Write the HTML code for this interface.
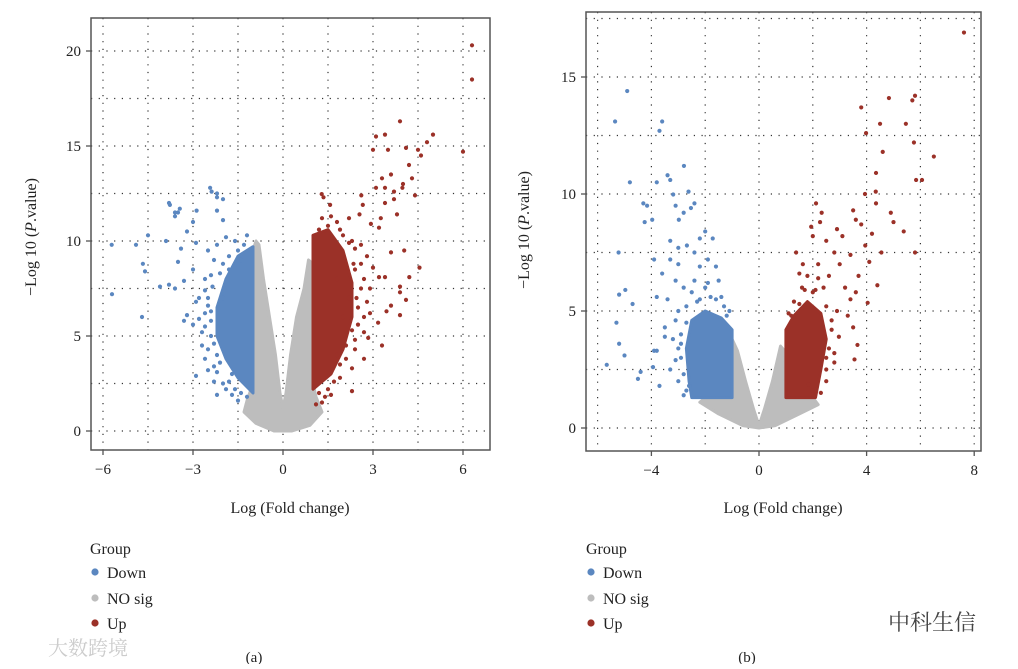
<!DOCTYPE html>
<html><head><meta charset="utf-8"><style>
body{margin:0;background:#fff;width:1018px;height:664px;overflow:hidden}
svg text{font-family:"Liberation Serif","Noto Serif CJK SC",serif;fill:#222}
</style></head><body>
<svg id="c" width="1018" height="664"></svg>
<script>
// ---------- Panel A data ----------
const aGrayEnv=[[-0.9,10],[-1.0,9.5],[-1.0,2.5],[-1.2,1.6],[-1.3,1.0],[-0.9,0.4],[-0.3,0],[0.3,0],[0.9,0.3],[1.3,1.0],[1.1,1.8],[1.0,2.5],[1.0,8.8],[0.85,9.0],[0.7,7.5],[0.45,6],[0.25,4],[0.1,2],[0,1.2],[-0.1,2],[-0.25,4],[-0.45,6],[-0.65,8],[-0.8,9.8]];
const aDownCore=[[-1,9.7],[-1.5,9.2],[-1.9,8.0],[-2.2,6.5],[-2.2,5],[-1.9,3.8],[-1.5,2.8],[-1,2]];
const aUpCore=[[1,10.3],[1.5,10.6],[2.0,9.5],[2.3,7.8],[2.3,6],[2.0,4.3],[1.6,3],[1,2.2]];
const aDown=[[-5.71,9.8],[-4.9,9.8],[-4.5,10.3],[-4.67,8.8],[-4.6,8.4],[-4.1,7.6],[-3.8,7.7],[-5.7,7.2],[-4.7,6.0],[-3.8,12.0],[-3.5,11.5],[-3.44,11.7],[-3.6,11.3],[-2.88,11.6],[-3.0,11.0],[-2.38,12.6],[-2.2,12.3],[-2.0,12.2],[-2.2,11.6],[-2.0,11.1],[-3.2,10.5],[-2.9,9.9],[-3.4,9.6],[-3.5,8.9],[-3.0,8.5],[-3.3,7.9],[-3.6,7.5],[-3.2,6.1],[-3.3,5.8],[-3.0,5.6],[-2.9,2.9],[-2.5,3.2],[-2.2,3.1],[-2.2,1.9],[-2.0,2.5],[-3.9,10.0],[-2.43,12.8],[-2.2,12.5],[-3.77,11.9],[-3.6,11.5],[-2.5,9.5],[-2.2,9.8],[-1.9,10.2],[-1.6,10.0],[-1.3,9.8],[-2.6,8],[-2.8,7],[-2.6,6.2],[-2.9,6.8],[-2.4,5],[-2.7,4.5],[-2.2,4],[-2.5,6.6],[-1.7,3],[-1.4,2.0],[-1.6,2.2],[-1.2,1.8],[-2.0,7],[-1.8,8.5],[-1.4,9.0],[-2.3,9.0],[-2.0,8.8],[-2.6,7.4],[-2.4,5.8],[-2.7,5.2],[-2.1,3.6],[-1.8,2.6],[-2.4,8.2],[-2.5,7.0],[-2.6,5.5],[-2.5,4.3],[-2.3,3.4],[-1.9,2.2],[-1.5,1.6],[-1.2,10.3],[-1.5,9.5],[-1.8,9.2],[-2.1,8.3],[-2.8,5.9],[-2.3,2.6],[-1.7,1.9],[-2.6,3.8],[-2.35,7.6],[-2.4,6.3],[-2.3,4.6]];
const aUp=[[6.3,20.3],[6.3,18.5],[5.0,15.6],[4.8,15.2],[4.5,14.8],[3.4,15.6],[3.1,15.5],[3.9,16.3],[4.1,14.9],[4.6,14.5],[6.0,14.7],[3.0,14.8],[3.5,14.8],[4.2,14.0],[3.6,13.5],[4.3,13.3],[3.3,13.3],[4.0,13.0],[1.29,12.47],[1.35,12.3],[1.57,11.9],[2.61,12.4],[3.1,12.8],[3.4,12.8],[3.7,12.6],[3.98,12.8],[4.4,12.4],[3.8,11.4],[3.4,12.0],[3.7,12.2],[3.26,11.2],[2.66,11.9],[2.55,11.4],[3.2,10.7],[2.93,10.9],[4.55,8.6],[4.04,9.5],[3.6,9.4],[4.21,8.1],[3.9,7.6],[3.4,8.1],[3.2,8.1],[4.1,6.9],[3.9,7.3],[3.6,6.6],[3.45,6.3],[3.9,6.1],[3.17,5.7],[3.3,4.5],[2.84,4.9],[2.7,3.8],[1.9,2.8],[1.6,1.9],[2.3,2.1],[2.0,10.3],[2.3,10.0],[2.6,9.8],[2.8,9.2],[2.4,8.5],[2.7,8.0],[2.9,7.5],[2.5,6.5],[2.7,6.0],[2.3,5.3],[2.1,4.5],[2.4,4.3],[1.9,3.5],[2.8,6.8],[3.0,8.6],[2.2,11.2],[1.8,11.0],[1.5,10.8],[1.2,10.6],[2.0,9.0],[1.8,8.0],[2.2,7.0],[2.0,6.0],[1.8,4.0],[1.3,1.5],[1.1,1.4],[1.5,2.2],[1.3,11.2],[1.6,11.3],[1.9,10.6],[2.4,9.6],[2.6,8.8],[2.6,7.5],[2.5,5.6],[2.4,4.8],[2.1,3.8],[1.7,2.6],[1.4,1.8],[1.2,2.0],[2.7,5.2],[2.9,6.2],[2.3,3.3],[2.45,7.0],[2.35,8.8],[2.2,9.9]];
const aXTicks=[-6,-3,0,3,6];
const aYTicks=[0,5,10,15,20];
// ---------- Panel B data ----------
const bGrayEnv=[[-1.0,3.8],[-1.0,1.3],[-2.0,1.3],[-2.2,1.1],[-1.5,0.6],[-0.6,0.1],[0,0],[0.6,0.1],[1.5,0.6],[2.2,1.0],[2.0,1.3],[1.0,1.3],[0.95,3.3],[0.8,3.5],[0.5,2.0],[0.2,0.8],[0,0.1],[-0.2,0.8],[-0.5,2],[-0.8,3.3]];
const bDownCore=[[-1,4.2],[-1,1.3],[-2.5,1.3],[-2.6,2],[-2.7,3.4],[-2.5,4.6],[-2,5.0],[-1.4,4.7]];
const bUpCore=[[1,1.3],[2.1,1.3],[2.3,2.5],[2.5,3.8],[2.3,4.9],[1.8,5.4],[1.3,4.8],[1,4.2]];
const bDown=[[-4.9,14.4],[-5.35,13.1],[-3.6,13.1],[-3.7,12.7],[-2.79,11.2],[-4.8,10.5],[-3.4,10.8],[-3.8,10.5],[-3.3,10.6],[-3.19,9.98],[-2.62,10.1],[-4.3,9.6],[-4.16,9.5],[-4.25,8.8],[-3.97,8.9],[-2.98,8.9],[-3.1,9.5],[-2.4,9.6],[-2.53,9.4],[-2.8,9.2],[-2.2,8.1],[-1.72,8.1],[-2.0,8.4],[-3.3,8.0],[-3.0,7.7],[-2.68,7.8],[-5.22,7.5],[-3.9,7.2],[-3.3,7.2],[-3.0,7.0],[-2.2,6.9],[-1.6,6.9],[-3.6,6.6],[-3.1,6.3],[-4.97,5.9],[-5.2,5.7],[-4.7,5.3],[-5.3,4.5],[-5.2,3.6],[-5.0,3.1],[-5.66,2.7],[-4.4,2.4],[-4.5,2.1],[-3.7,1.8],[-3.9,3.3],[-3.8,3.3],[-3.8,5.6],[-3.4,5.5],[-3.5,3.9],[-3.94,2.6],[-3.0,5.0],[-2.7,4.5],[-3.2,3.8],[-2.9,3.0],[-3.3,2.5],[-3.0,2.0],[-2.6,1.8],[-2.2,5.5],[-2.0,6.0],[-1.6,5.5],[-1.3,5.2],[-2.5,5.8],[-2.8,6.0],[-1.9,7.2],[-2.4,7.5],[-1.5,6.3],[-1.2,4.8],[-3.5,4.3],[-3.1,4.6],[-2.9,3.6],[-2.6,2.5],[-2.9,4.0],[-3.0,3.4],[-2.8,2.3],[-2.7,1.6],[-2.3,5.4],[-1.8,5.6],[-1.4,5.6],[-1.1,5.0],[-3.1,2.9],[-2.7,5.2],[-2.8,1.4],[-2.4,6.3],[-1.9,6.2]];
const bUp=[[7.62,16.9],[5.8,14.2],[5.7,14.0],[4.83,14.1],[4.5,13.0],[3.8,13.7],[3.98,12.6],[5.46,13.0],[5.76,12.2],[6.5,11.6],[5.84,10.6],[6.06,10.6],[4.35,10.9],[4.6,11.8],[3.94,10.0],[4.34,10.1],[4.35,9.6],[2.12,9.6],[2.33,9.2],[2.27,8.8],[3.5,9.3],[3.6,8.9],[3.8,8.7],[4.9,9.2],[5.0,8.8],[5.38,8.4],[5.8,7.5],[4.2,8.3],[3.95,7.8],[4.55,7.5],[1.94,8.6],[2.0,8.2],[1.38,7.5],[1.63,7.0],[4.1,7.1],[4.4,6.1],[4.04,5.35],[3.5,4.3],[3.66,3.55],[3.55,2.93],[2.97,3.9],[2.5,2.5],[1.98,1.6],[1.85,1.86],[2.5,8.0],[2.8,7.5],[3.0,7.0],[2.6,6.5],[3.2,6.0],[3.4,5.5],[2.9,5.0],[3.3,4.8],[2.7,4.2],[2.4,6.0],[2.2,7.0],[1.8,6.5],[1.6,6.0],[3.1,8.2],[2.9,8.5],[3.4,7.4],[3.7,6.5],[3.6,5.8],[2.0,5.8],[1.5,5.3],[1.2,4.8],[2.8,3.2],[2.5,3.0],[2.6,3.4],[2.5,2.0],[2.3,1.5],[2.7,4.6],[2.5,5.2],[2.1,5.9],[1.7,5.9],[1.3,5.4],[1.1,4.9],[2.8,2.8],[2.2,6.4],[1.5,6.6]];
const bXTicks=[-4,0,4,8];
const bYTicks=[0,5,10,15];

const NS='http://www.w3.org/2000/svg';
const svg=document.getElementById('c');
const C={down:'#5b87c0',nos:'#bdbdbd',up:'#9b3128'};
function mk(tag,attrs,parent){const e=document.createElementNS(NS,tag);for(const k in attrs)e.setAttribute(k,attrs[k]);(parent||svg).appendChild(e);return e;}

function panel(cfg){
  const g=mk('g',{});
  
  
  const X=v=>cfg.x0+cfg.kx*v, Y=v=>cfg.y0-cfg.ky*v;
  for(let v=cfg.gx[0];v<=cfg.gx[1]+1e-9;v+=cfg.gx[2]){
    const l=mk('line',{x1:X(v),x2:X(v),y1:cfg.T,y2:cfg.B,stroke:'#333','stroke-width':1.2,'stroke-dasharray':'1.2 6.5'},g);
    
  }
  for(let v=cfg.gy[0];v<=cfg.gy[1]+1e-9;v+=cfg.gy[2]){
    const l=mk('line',{x1:cfg.L,x2:cfg.R,y1:Y(v),y2:Y(v),stroke:'#333','stroke-width':1.2,'stroke-dasharray':'1.2 6.5'},g);
    
  }
  const poly=(pts,col,nm)=>{const p=mk('polygon',{points:pts.map(q=>X(q[0])+','+Y(q[1])).join(' '),fill:col,stroke:col,'stroke-width':3,'stroke-linejoin':'round'},g);
    };
  poly(cfg.gray,C.nos,'nosig-dense-region');
  poly(cfg.dcore,C.down,'down-dense-region');
  poly(cfg.ucore,C.up,'up-dense-region');
  const dots=(arr,col,nm)=>arr.forEach(d=>{const c=mk('circle',{cx:X(d[0]),cy:Y(d[1]),r:2.1,fill:col},g);
    });
  dots(cfg.down,C.down,'down-point');
  dots(cfg.up,C.up,'up-point');
  const fr=mk('rect',{x:cfg.L,y:cfg.T,width:cfg.R-cfg.L,height:cfg.B-cfg.T,fill:'none',stroke:'#555','stroke-width':1.5},g);
  
  cfg.xt.forEach(v=>{mk('line',{x1:X(v),x2:X(v),y1:cfg.B,y2:cfg.B+5,stroke:'#555','stroke-width':1.3},g);
    const t=mk('text',{x:X(v),y:cfg.B+24,'text-anchor':'middle','font-size':15},g);t.textContent=v<0?'\u2212'+(-v):v;
    });
  cfg.yt.forEach(v=>{mk('line',{x1:cfg.L-5,x2:cfg.L,y1:Y(v),y2:Y(v),stroke:'#555','stroke-width':1.3},g);
    const t=mk('text',{x:cfg.L-10,y:Y(v)+5,'text-anchor':'end','font-size':15},g);t.textContent=v;
    });
  const xt=mk('text',{x:cfg.xtx,y:513,'text-anchor':'middle','font-size':16},g);xt.textContent='Log (Fold change)';
  
  const yt=mk('text',{x:0,y:0,'text-anchor':'middle','font-size':16,transform:`translate(${cfg.ytx},${cfg.yty}) rotate(-90)`},g);
  yt.innerHTML='\u2212Log 10 (<tspan font-style="italic">P</tspan>.value)';
  
  const lg=mk('g',{},g);
  const h=mk('text',{x:cfg.lx,y:554,'font-size':16},lg);h.textContent='Group';
  
  [['Down',C.down,578],['NO sig',C.nos,604],['Up',C.up,629]].forEach(e=>{
    const c=mk('circle',{cx:cfg.lx+5,cy:e[2]-6,r:3.6,fill:e[1]},lg);
    
    const t=mk('text',{x:cfg.lx+17,y:e[2],'font-size':16},lg);t.textContent=e[0];
    });
  const lab=mk('text',{x:cfg.labx,y:662,'text-anchor':'middle','font-size':15},g);lab.textContent=cfg.label;
  
}
panel({name:'panel-a',x0:283,kx:30,y0:431,ky:19,L:91,R:490,T:18,B:450,gx:[-6,6,1.5],gy:[0,20,2.5],
  gray:aGrayEnv,dcore:aDownCore,ucore:aUpCore,down:aDown,up:aUp,xt:aXTicks,yt:aYTicks,
  xtx:290,ytx:36,yty:237,lx:90,labx:254,label:'(a)'});
panel({name:'panel-b',x0:759,kx:26.9,y0:428,ky:23.4,L:586,R:981,T:12,B:451,gx:[-6,8,2],gy:[0,17.5,2.5],
  gray:bGrayEnv,dcore:bDownCore,ucore:bUpCore,down:bDown,up:bUp,xt:bXTicks,yt:bYTicks,
  xtx:783,ytx:529,yty:230,lx:586,labx:747,label:'(b)'});
const w1=mk('text',{x:888,y:630,'font-size':22});w1.textContent='中科生信';

w1.style.fill='#444';
const w2=mk('text',{x:48,y:655,'font-size':20});w2.textContent='大数跨境';

w2.style.fill='#ccc';
</script>
</body></html>
